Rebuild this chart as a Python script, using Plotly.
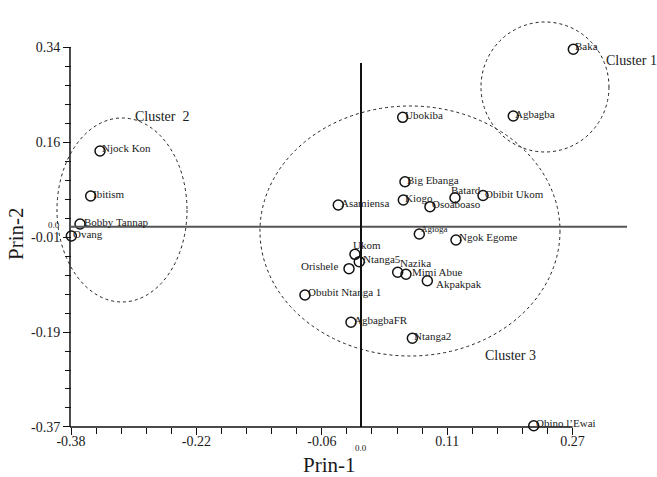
import plotly.graph_objects as go

# ---------------- data ----------------
NAMES = ["Baka", "Agbagba", "Njock Kon", "Ibitism", "Bobby Tannap", "Ovang",
         "Ubokiba", "Big Ebanga", "Kiogo", "Osoaboaso", "Batard", "Obibit Ukom",
         "Asamiensa", "Agioga", "Ngok Egome", "Ukom", "Ntanga5", "Orishele",
         "Nazika", "Mimi Abue", "Akpakpak", "Obubit Ntanga 1", "AgbagbaFR",
         "Ntanga2", "Obino l\u2019Ewai"]
PRIN1 = [0.2709, 0.1943, -0.3330, -0.3449, -0.3585, -0.3696,
         0.0532, 0.0561, 0.0540, 0.0880, 0.1199, 0.1557,
         -0.0290, 0.0744, 0.1212, -0.0077, -0.0022, -0.0153,
         0.0468, 0.0574, 0.0846, -0.0715, -0.0128,
         0.0655, 0.2204]
PRIN2 = [0.3367, 0.2101, 0.1437, 0.0583, 0.0051, -0.0177,
         0.2076, 0.0854, 0.0507, 0.0380, 0.0550, 0.0592,
         0.0412, -0.0139, -0.0252, -0.0524, -0.0664, -0.0797,
         -0.0865, -0.0903, -0.1025, -0.1296, -0.1814,
         -0.2118, -0.3777]

X_TICK_VALS = [-0.37, -0.21, -0.05, 0.11, 0.27]
X_TICK_TEXT = ["-0.38", "-0.22", "-0.06", "0.11", "0.27"]
Y_TICK_VALS = [0.34, 0.16, -0.02, -0.20, -0.38]
Y_TICK_TEXT = ["0.34", "0.16", "-0.01", "-0.19", "-0.37"]

CLUSTER_NAMES = ["Cluster 1", "Cluster  2", "Cluster 3"]

# ---------------- styles / layout geometry ----------------
FONT = "Liberation Serif"
TXT = "#1a1a1a"
W, H = 657, 477
ML, MR, MT, MB = 50, 0, 12, 37
KX, X0 = 783.75, 361.0     # px per unit, px of origin
KY, Y0 = 526.9, 226.7
x_range = [(ML - X0) / KX, (W - MR - X0) / KX]
y_range = [(Y0 - (H - MB)) / KY, (Y0 - MT) / KY]

# label offsets (px): xshift, yshift, anchor
LABEL_OFF = [(0, 3, "left"), (0, 2, "left"), (0, 3, "left"), (0, 2, "left"),
             (2, 2, "left"), (0, 2, "left"), (0, 2, "left"), (0, 2, "left"),
             (0, 2, "left"), (0, 3, "left"), (-6, 8, "left"), (0, 2, "left"),
             (1, 2, "left"), (0, 5, "left"), (1, 3, "left"), (-4, 9, "left"),
             (2, 3, "left"), (-9, 3, "right"), (0, 9, "left"), (4, 2, "left"),
             (7, -3, "left"), (1, 3, "left"), (1, 2, "left"), (0, 2, "left"),
             (0, 3, "left")]
LABEL_SIZE = [11] * len(NAMES)
LABEL_SIZE[NAMES.index("Agioga")] = 9

# cluster ellipse bounds (x0, x1, y0, y1) in data units, and label anchors
CLUSTER_BOX = [(0.1531, 0.3164, 0.1418, 0.3885),
               (-0.3879, -0.2220, -0.1429, 0.2063),
               (-0.1289, 0.2539, -0.2454, 0.2291)]
CLUSTER_LABEL_POS = [(0.3095, 0.3145), (-0.2909, 0.2101), (0.1553, -0.2435)]

fig = go.Figure()

fig.add_trace(go.Scatter(
    x=PRIN1, y=PRIN2, mode="markers",
    marker=dict(symbol="circle-open", size=10, color="#111",
                line=dict(width=1.5, color="#111")),
    cliponaxis=False, hoverinfo="text", text=NAMES, showlegend=False))

shapes = []
# cluster ellipses
for (x0, x1, y0, y1) in CLUSTER_BOX:
    shapes.append(dict(type="circle", xref="x", yref="y", x0=x0, x1=x1, y0=y0, y1=y1,
                       line=dict(color="#222", width=1, dash="dot"), layer="above"))
# cross lines through the origin
shapes.append(dict(type="line", xref="x", yref="y", x0=X_TICK_VALS[0], x1=(627 - X0) / KX,
                   y0=0, y1=0, line=dict(color="#555", width=2)))
shapes.append(dict(type="line", xref="x", yref="y", x0=0, x1=0,
                   y0=Y_TICK_VALS[-1], y1=(Y0 - 63) / KY, line=dict(color="#111", width=2)))
# axis lines
shapes.append(dict(type="line", xref="x", yref="y", x0=X_TICK_VALS[0] - 0.0013, x1=X_TICK_VALS[-1],
                   y0=Y_TICK_VALS[-1], y1=Y_TICK_VALS[-1], line=dict(color="#111", width=1.5)))
shapes.append(dict(type="line", xref="x", yref="y", x0=X_TICK_VALS[0] - 0.0013, x1=X_TICK_VALS[0] - 0.0013,
                   y0=Y_TICK_VALS[-1], y1=Y_TICK_VALS[0], line=dict(color="#111", width=1.5)))

annotations = []
for name, x, y, (dx, dy, anc), fs in zip(NAMES, PRIN1, PRIN2, LABEL_OFF, LABEL_SIZE):
    annotations.append(dict(x=x, y=y, xref="x", yref="y", text=name, showarrow=False,
                            xanchor=anc, yanchor="middle", xshift=dx, yshift=dy,
                            font=dict(family=FONT, size=fs, color=TXT)))
for name, (x, y) in zip(CLUSTER_NAMES, CLUSTER_LABEL_POS):
    annotations.append(dict(x=x, y=y, xref="x", yref="y", text=name, showarrow=False,
                            xanchor="left", yanchor="middle",
                            font=dict(family=FONT, size=14, color=TXT)))
# small origin labels
annotations.append(dict(x=0, y=Y_TICK_VALS[-1], xref="x", yref="y", text="0.0", showarrow=False,
                        xanchor="center", yanchor="top", yshift=-14,
                        font=dict(family=FONT, size=9, color=TXT)))
annotations.append(dict(x=X_TICK_VALS[0], y=0, xref="x", yref="y", text="0.0", showarrow=False,
                        xanchor="right", yanchor="middle", xshift=-9, yshift=2,
                        font=dict(family=FONT, size=9, color=TXT)))
# axis titles
annotations.append(dict(x=(329 - X0) / KX, y=(H - MB - 465) / (H - MB - MT), xref="x", yref="paper",
                        text="Prin-1", showarrow=False, xanchor="center", yanchor="middle",
                        font=dict(family=FONT, size=21, color=TXT)))
annotations.append(dict(x=(16 - ML) / (W - ML - MR), y=(Y0 - 234) / KY, xref="paper", yref="y",
                        text="Prin-2", showarrow=False, xanchor="center", yanchor="middle",
                        textangle=-90, font=dict(family=FONT, size=21, color=TXT)))

x_minor = [round(X_TICK_VALS[0] + i * 0.032, 4) for i in range(21)]
y_minor = [round(Y_TICK_VALS[-1] + i * 0.036, 4) for i in range(21)]
xpos = (Y_TICK_VALS[-1] - y_range[0]) / (y_range[1] - y_range[0])
ypos = (X_TICK_VALS[0] - x_range[0]) / (x_range[1] - x_range[0])

fig.update_layout(
    width=W, height=H, margin=dict(l=ML, r=MR, t=MT, b=MB, autoexpand=False),
    paper_bgcolor="white", plot_bgcolor="white", showlegend=False,
    font=dict(family=FONT, color=TXT),
    shapes=shapes, annotations=annotations,
    xaxis=dict(range=x_range, anchor="free", position=xpos, showgrid=False, zeroline=False,
               showline=False, tickmode="array", tickvals=X_TICK_VALS, ticktext=X_TICK_TEXT,
               ticks="outside", ticklen=7, tickwidth=1.3, tickcolor="#111",
               ticklabelstandoff=-6,
               tickfont=dict(family=FONT, size=14, color=TXT),
               minor=dict(tickmode="array", tickvals=x_minor, ticks="outside", ticklen=6,
                          tickwidth=1.3, tickcolor="#111", showgrid=False)),
    yaxis=dict(range=y_range, anchor="free", position=ypos, showgrid=False, zeroline=False,
               showline=False, tickmode="array", tickvals=Y_TICK_VALS, ticktext=Y_TICK_TEXT,
               ticks="outside", ticklen=8, tickwidth=1.3, tickcolor="#111",
               tickfont=dict(family=FONT, size=14, color=TXT),
               minor=dict(tickmode="array", tickvals=y_minor, ticks="outside", ticklen=6,
                          tickwidth=1.3, tickcolor="#111", showgrid=False)),
)

fig.write_html("out.html")
